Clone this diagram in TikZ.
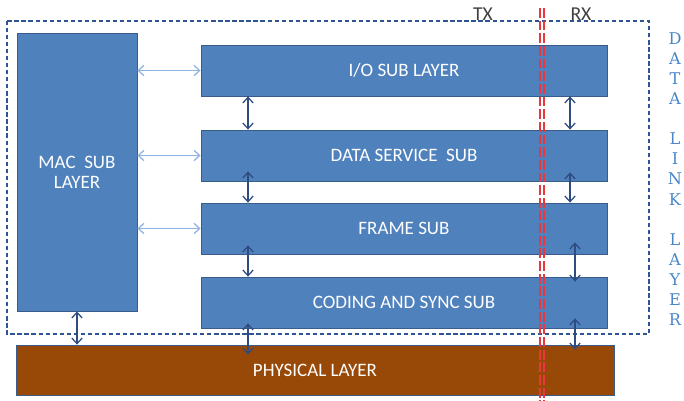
\documentclass[tikz,border=0pt]{standalone}
\usepackage{fontspec}
\setmainfont{Carlito}
\newfontfamily\letterfont{DejaVu Serif}
\usetikzlibrary{arrows.meta,positioning,calc}

\definecolor{boxblue}{HTML}{4F81BD}
\definecolor{boxline}{HTML}{385D8A}
\definecolor{phybrown}{HTML}{984807}
\definecolor{navy}{HTML}{2F4C80}
\definecolor{paleblue}{HTML}{8FB4E3}
\definecolor{dllblue}{HTML}{2F5496}
\definecolor{letterblue}{HTML}{4A86C8}
\definecolor{splitred}{HTML}{E8383D}
\definecolor{labelgray}{HTML}{404040}

\begin{document}
\begin{tikzpicture}[
  x=0.025cm, y=-0.025cm,
  subbox/.style={rectangle, draw=boxline, fill=boxblue, line width=0.6pt, text=white,
    font=\fontsize{13.5}{15}\selectfont, inner sep=0pt, minimum width=10.15cm, minimum height=1.275cm},
  macbox/.style={subbox, align=center, font=\fontsize{13.5}{14.2}\selectfont, minimum width=3cm, minimum height=6.95cm},
  phybox/.style={subbox, fill=phybrown, minimum width=14.95cm, minimum height=1.25cm},
  updown/.style={{Straight Barb[length=1.4mm,width=2.6mm]}-{Straight Barb[length=1.4mm,width=2.6mm]}, navy, line width=0.9pt},
  sidelink/.style={updown, paleblue},
  dllbox/.style={dllblue, line width=1.2pt, dash pattern=on 3pt off 2pt},
  splitline/.style={splitred, line width=1.2pt, dash pattern=on 7pt off 2pt},
  txrx/.style={text=labelgray, font=\fontsize{14}{16}\selectfont, anchor=base, inner sep=0pt}
]
  \useasboundingbox (0,0) rectangle (684,401);

  % data link layer frame
  \draw[dllbox] (7,21) rectangle (649,334);
  \node[txrx] (tx) at (483,20) {TX};
  \node[txrx] (rx) at (581,20) {RX};

  % sub layers
  \node[subbox] (io) at (404,70.5) {I/O SUB LAYER};
  \node[subbox] (ds) at (404,155.5) {DATA SERVICE\ \ SUB};
  \node[subbox] (fr) at (404,228.5) {FRAME SUB};
  \node[subbox] (cs) at (404,302.5) {CODING AND SYNC SUB};
  \node[macbox] (mac) at (77,172) {MAC\ \ SUB\\LAYER};
  \node[phybox] (phy) at (315,370) {PHYSICAL LAYER};

  \node[text=letterblue, align=center, inner sep=0pt, font=\letterfont\fontsize{11.5}{14.3}\selectfont] (dll) at (675,179)
    {D\\A\\T\\A\\[14.3pt]L\\I\\N\\K\\[14.3pt]L\\A\\Y\\E\\R};

  % links
  \coordinate (lx) at (248,0);
  \coordinate (rxa) at (570,0);
  \coordinate (rxb) at (575,0);
  \draw[sidelink] (mac.east |- io.west) -- (io.west);
  \draw[sidelink] (mac.east |- ds.west) -- (ds.west);
  \draw[sidelink] (mac.east |- fr.west) -- (fr.west);
  \draw[updown] (mac.south) -- (mac.south |- phy.north);

  \draw[updown] (io.south -| lx) -- (ds.north -| lx);
  \draw[updown] ($(ds.south -| lx)+(0,-10)$) -- (fr.north -| lx);
  \draw[updown] ($(fr.south -| lx)+(0,-9)$) -- (cs.north -| lx);
  \draw[updown] ($(cs.south -| lx)+(0,-5)$) -- ($(phy.north -| lx)+(0,10)$);

  \draw[updown] (io.south -| rxa) -- (ds.north -| rxa);
  \draw[updown] ($(ds.south -| rxa)+(0,-9)$) -- (fr.north -| rxa);
  \draw[updown] ($(fr.south -| rxb)+(0,-12)$) -- ($(cs.north -| rxb)+(0,5)$);
  \draw[updown] ($(cs.south -| rxb)+(0,-10)$) -- ($(phy.north -| rxb)+(0,5)$);

  % tx / rx split
  \coordinate (splittop) at (540,8);
  \coordinate (splitend) at (540,401);
  \draw[splitline] (splittop) -- (splitend);
  \draw[splitline] ($(splittop)+(4,0)$) -- ($(splitend)+(4,0)$);
\end{tikzpicture}
\end{document}
